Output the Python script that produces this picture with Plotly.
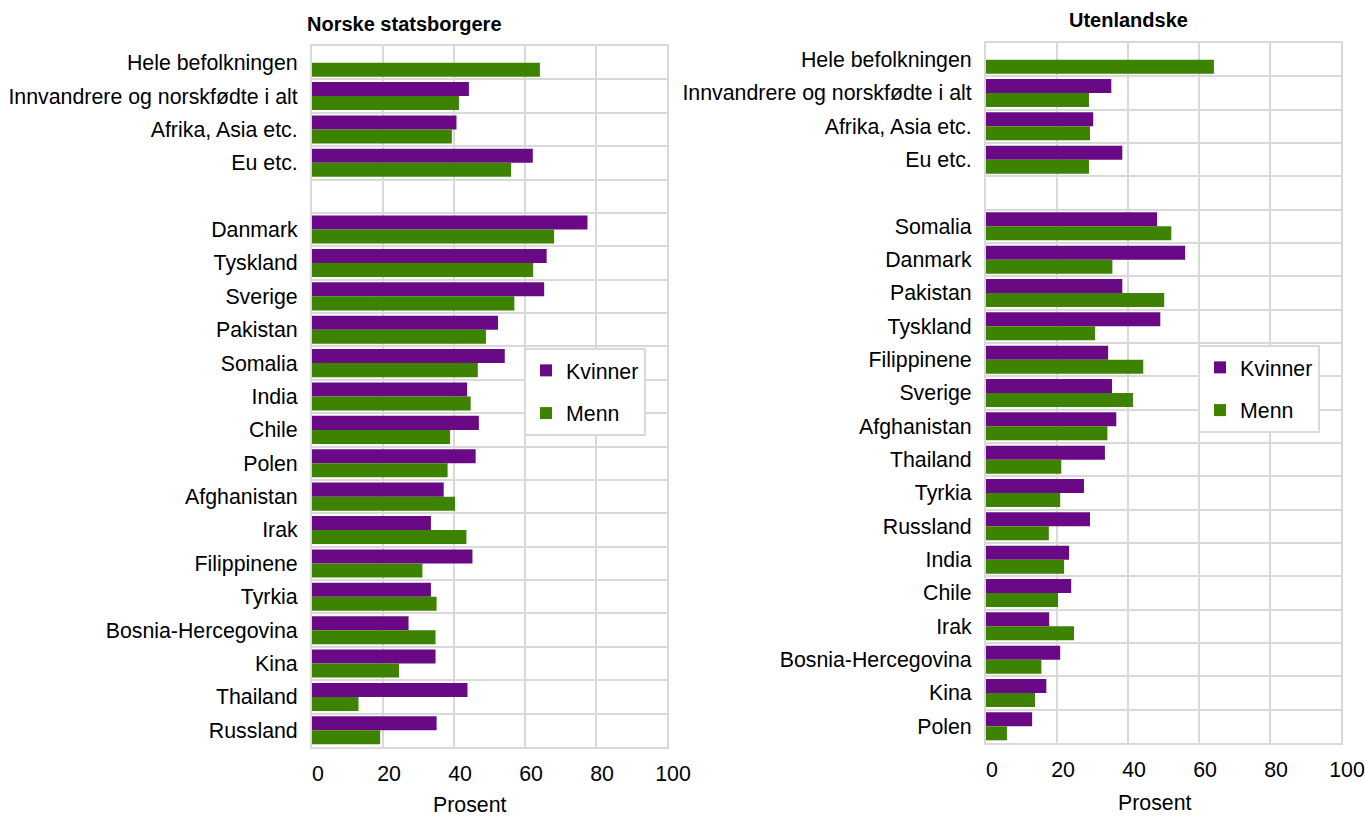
import plotly.graph_objects as go

left_categories = ["Hele befolkningen", "Innvandrere og norskfødte i alt", "Afrika, Asia etc.", "Eu etc.", "",
                   "Danmark", "Tyskland", "Sverige", "Pakistan", "Somalia", "India", "Chile", "Polen",
                   "Afghanistan", "Irak", "Filippinene", "Tyrkia", "Bosnia-Hercegovina", "Kina", "Thailand", "Russland"]
left_kvinner = [None, 44.2, 40.7, 62.2, None, 77.6, 66.1, 65.4, 52.4, 54.3, 43.7, 47.0, 46.1,
                37.1, 33.5, 45.2, 33.5, 27.2, 34.8, 43.8, 35.1]
left_menn = [64.2, 41.4, 39.4, 56.1, None, 68.2, 62.3, 57.0, 49.0, 46.7, 44.7, 38.9, 38.2,
             40.3, 43.5, 31.1, 35.1, 34.8, 24.5, 13.1, 19.2]

right_categories = ["Hele befolkningen", "Innvandrere og norskfødte i alt", "Afrika, Asia etc.", "Eu etc.", "",
                    "Somalia", "Danmark", "Pakistan", "Tyskland", "Filippinene", "Sverige", "Afghanistan",
                    "Thailand", "Tyrkia", "Russland", "India", "Chile", "Irak", "Bosnia-Hercegovina", "Kina", "Polen"]
right_kvinner = [None, 35.3, 30.2, 38.4, None, 48.2, 56.1, 38.4, 49.1, 34.4, 35.5, 36.7,
                 33.5, 27.6, 29.3, 23.4, 24.0, 17.8, 20.9, 17.0, 13.0]
right_menn = [64.2, 29.0, 29.3, 29.0, None, 52.2, 35.6, 50.2, 30.7, 44.3, 41.4, 34.2,
              21.2, 20.9, 17.7, 22.0, 20.3, 24.8, 15.6, 13.8, 5.9]

x_ticks = [0, 20, 40, 60, 80, 100]
series_names = ["Kvinner", "Menn"]
titles = ["Norske statsborgere", "Utenlandske"]
x_title = "Prosent"

PURPLE = "#690985"
GREEN = "#3e8201"
GRID = "#d9d9d9"
FONT = "Liberation Sans, Arial, sans-serif"
FS = 21.33
W, H = 1365, 816

fig = go.Figure()

panels = [
    dict(cats=left_categories, k=left_kvinner, m=left_menn, xa="x", ya="y", leg="legend", grp="L"),
    dict(cats=right_categories, k=right_kvinner, m=right_menn, xa="x2", ya="y2", leg="legend2", grp="R"),
]
for p in panels:
    pos = list(range(len(p["cats"])))
    fig.add_trace(go.Bar(y=pos, x=p["k"], orientation="h", name=series_names[0], marker_color=PURPLE,
                         marker_line_width=0, xaxis=p["xa"], yaxis=p["ya"], legend=p["leg"],
                         legendgroup=p["grp"] + "k", offsetgroup="k"))
    fig.add_trace(go.Bar(y=pos, x=p["m"], orientation="h", name=series_names[1], marker_color=GREEN,
                         marker_line_width=0, xaxis=p["xa"], yaxis=p["ya"], legend=p["leg"],
                         legendgroup=p["grp"] + "m", offsetgroup="m"))

def xaxis(domain, anchor):
    return dict(domain=domain, anchor=anchor, range=[0, 100], tickvals=x_ticks, showgrid=True,
                gridcolor=GRID, gridwidth=2, showline=True, linecolor=GRID, linewidth=2, mirror=True,
                zeroline=False, ticks="", tickfont=dict(size=FS, color="#000", family=FONT),
                ticklabelshift=6, ticklabelstandoff=6, automargin=False, fixedrange=True)

def yaxis(domain, anchor, cats):
    n = len(cats)
    return dict(domain=domain, anchor=anchor, range=[n - 0.5, -0.5], tickmode="array",
                tickvals=list(range(n)), ticktext=cats, showgrid=False, zeroline=False,
                showline=True, linecolor=GRID, linewidth=2, mirror=True, ticks="",
                tickfont=dict(size=FS, color="#000", family=FONT), ticklabelstandoff=8,
                automargin=False, fixedrange=True,
                minor=dict(tickmode="array", tickvals=[i + 0.5 for i in range(n - 1)], showgrid=True,
                           gridcolor=GRID, gridwidth=2, ticks=""))

lx0, lx1 = 312 / W, 667 / W
rx0, rx1 = 986 / W, 1341 / W
ly0, ly1 = 1 - 747 / H, 1 - 46 / H
ry0, ry1 = 1 - 743 / H, 1 - 43 / H

legend_common = dict(bordercolor=GRID, borderwidth=2, bgcolor="white", xanchor="left", yanchor="top",
                     font=dict(size=FS, color="#000", family=FONT), tracegroupgap=12, itemclick=False,
                     itemwidth=30)

fig.update_layout(
    width=W, height=H, autosize=False, margin=dict(l=0, r=0, t=0, b=0, autoexpand=False),
    paper_bgcolor="white", plot_bgcolor="white",
    font=dict(family=FONT, color="#000"),
    barmode="group", bargap=0.16, bargroupgap=0,
    xaxis=xaxis([lx0, lx1], "y"), yaxis=yaxis([ly0, ly1], "x", left_categories),
    xaxis2=xaxis([rx0, rx1], "y2"), yaxis2=yaxis([ry0, ry1], "x2", right_categories),
    legend=dict(x=524 / W, y=1 - 348 / H, **legend_common),
    legend2=dict(x=1198 / W, y=1 - 345 / H, **legend_common),
    annotations=[
        dict(text="<b>" + titles[0] + "</b>", x=404 / W, y=1 - 24 / H, xref="paper", yref="paper",
             xanchor="center", yanchor="middle", showarrow=False,
             font=dict(size=20, family=FONT, color="#000")),
        dict(text="<b>" + titles[1] + "</b>", x=1128 / W, y=1 - 20 / H, xref="paper", yref="paper",
             xanchor="center", yanchor="middle", showarrow=False,
             font=dict(size=20, family=FONT, color="#000")),
        dict(text=x_title, x=470 / W, y=1 - 805 / H, xref="paper", yref="paper",
             xanchor="center", yanchor="middle", showarrow=False,
             font=dict(size=FS, family=FONT, color="#000")),
        dict(text=x_title, x=1155 / W, y=1 - 803 / H, xref="paper", yref="paper",
             xanchor="center", yanchor="middle", showarrow=False,
             font=dict(size=FS, family=FONT, color="#000")),
    ],
)

fig.write_html("out.html", config={"displayModeBar": False, "responsive": False},
               post_script=("document.body.style.margin='0';document.body.style.overflow='hidden';"
                            "Plotly.relayout('{plot_id}', {width: %d, height: %d});" % (W, H)))
